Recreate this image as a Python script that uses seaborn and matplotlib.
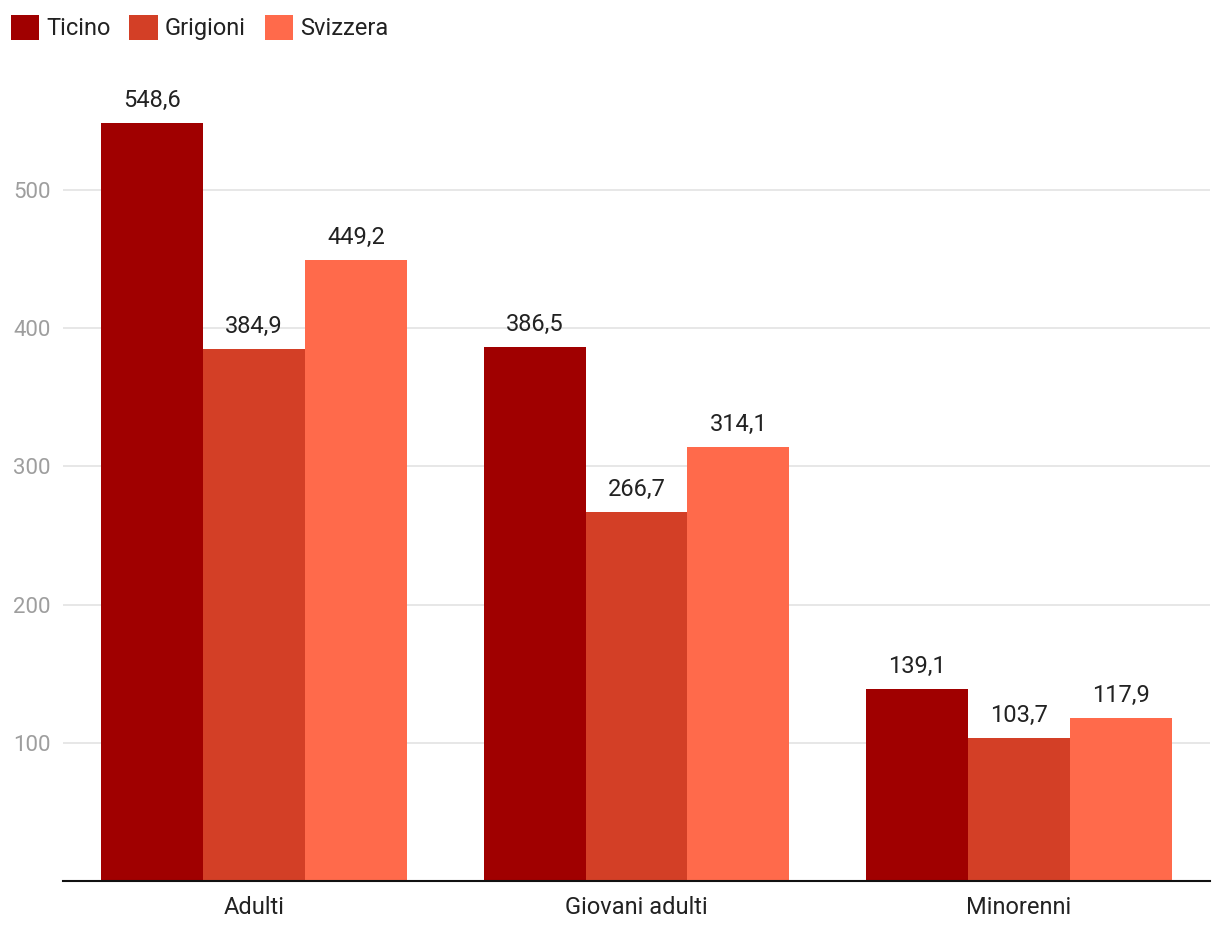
import matplotlib
matplotlib.use("Agg")
import matplotlib.pyplot as plt
import seaborn as sns
import pandas as pd

categories = ["Adulti", "Giovani adulti", "Minorenni"]
series_names = ["Ticino", "Grigioni", "Svizzera"]
ticino = [548.6, 386.5, 139.1]
grigioni = [384.9, 266.7, 103.7]
svizzera = [449.2, 314.1, 117.9]
colors = ["#a00000", "#d33f26", "#ff6a4b"]
y_ticks = [100, 200, 300, 400, 500]

rows = []
for name, vals in zip(series_names, [ticino, grigioni, svizzera]):
    for c, v in zip(categories, vals):
        rows.append({"categoria": c, "regione": name, "valore": v})
df = pd.DataFrame(rows)

sns.set_theme(style="white")
plt.rcParams["font.family"] = ["Roboto", "DejaVu Sans"]

fig = plt.figure(figsize=(12.2, 9.38), dpi=100)
ax = fig.add_axes([63 / 1220, 1 - 881 / 938, (1210 - 63) / 1220, (881 - 70) / 938])

sns.barplot(data=df, x="categoria", y="valore", hue="regione", order=categories,
            hue_order=series_names, palette=colors, saturation=1, width=0.8,
            linewidth=0, ax=ax, legend=False, errorbar=None)

ax.set_ylim(0, (881 - 70) / 1.382)
ax.set_xlim(-0.5, 2.5)
ax.set_yticks(y_ticks)
ax.set_yticklabels([str(t) for t in y_ticks])
ax.yaxis.grid(True, color="#e0e0e0", linewidth=1.1)
ax.set_axisbelow(True)
ax.set_xlabel("")
ax.set_ylabel("")
for s in ["top", "left", "right"]:
    ax.spines[s].set_visible(False)
ax.spines["bottom"].set_color("#111111")
ax.spines["bottom"].set_linewidth(1.5)
ax.tick_params(axis="y", length=0, pad=9, labelsize=16, labelcolor="#9e9e9e")
ax.tick_params(axis="x", length=0, pad=11, labelsize=17, labelcolor="#222222")

for cont in ax.containers:
    ax.bar_label(cont, fmt=lambda v: f"{v:.1f}".replace(".", ","), padding=8,
                 fontsize=17, color="#222222")

from matplotlib.patches import Patch
handles = [Patch(facecolor=c, edgecolor="none") for c in colors]
fig.legend(handles, series_names, loc="upper left", bbox_to_anchor=(0.0, 0.995),
           ncol=3, frameon=False, fontsize=17, handlelength=1.2, handleheight=1.2,
           handletextpad=0.3, columnspacing=0.8, borderaxespad=0.15, borderpad=0.3,
           labelcolor="#222222")

fig.savefig("out.png", dpi=100, facecolor="white")
